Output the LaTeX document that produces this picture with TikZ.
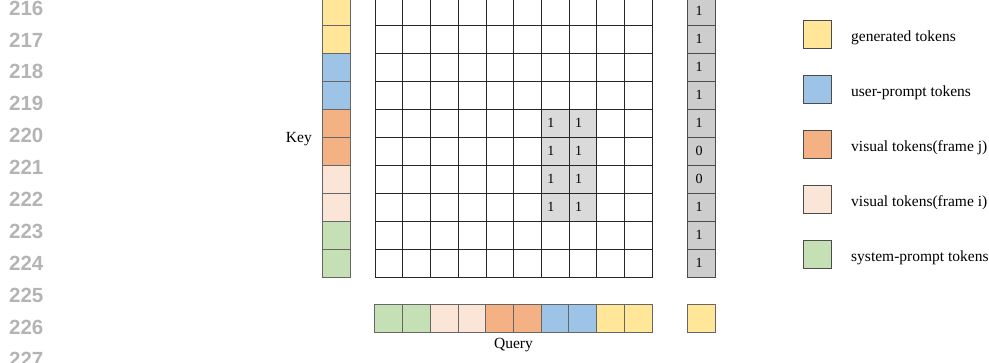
\documentclass[tikz,border=0pt]{standalone}
\usepackage{fontspec}
\setmainfont{Liberation Serif}
\newfontfamily\numfont{Liberation Sans}
\usetikzlibrary{positioning}
\definecolor{genyellow}{HTML}{FFE699}
\definecolor{userblue}{HTML}{9DC3E6}
\definecolor{framej}{HTML}{F4B183}
\definecolor{framei}{HTML}{FBE5D6}
\definecolor{sysgreen}{HTML}{C5E0B4}
\definecolor{maskgray}{HTML}{DADADA}
\definecolor{flaggray}{HTML}{CDCDCD}
\definecolor{linegray}{HTML}{B4B4B4}

\begin{document}
\begin{tikzpicture}[x=1pt, y=-1pt,
    cell/.style={draw=black!85, line width=0.6pt, minimum width=27.7pt, minimum height=28pt, inner sep=0pt, outer sep=0pt},
    token/.style={draw=black!60, line width=0.9pt, minimum width=28pt, minimum height=28pt, inner sep=0pt, outer sep=0pt},
    flag/.style={token, draw=black!70, fill=flaggray},
    digit/.style={font=\fontsize{14}{14}\selectfont, inner sep=0pt},
    legtext/.style={font=\fontsize{15.5}{15.5}\selectfont, inner sep=0pt, anchor=base west},
    axis/.style={font=\fontsize{15.5}{15.5}\selectfont, inner sep=0pt},
    lineno/.style={font=\numfont\bfseries\fontsize{20.5}{20.5}\selectfont, text=linegray, inner sep=0pt, anchor=west}
]
    \useasboundingbox (0,0) rectangle (989,362);

    % Line numbers
    \foreach \n [count=\i from 0] in {216,...,227}
        \node[lineno] (ln\n) at (9, {8+31.9*\i}) {\n};

    % Key tokens
    \foreach \c [count=\i] in {genyellow,genyellow,userblue,userblue,framej,framej,framei,framei,sysgreen,sysgreen}
        \node[token, fill=\c] (key\i) at (336, {-3+28*(\i-0.5)}) {};
    \node[axis, anchor=base east] (keylab) at (312,142) {Key};

    % Attention grid
    \foreach \r in {1,...,10}
        \foreach \c in {1,...,10} {
            \pgfmathtruncatemacro{\hit}{and(and(\r>4,\r<9),and(\c>6,\c<9))}
            \ifnum\hit=1 \def\cellfill{maskgray}\else\def\cellfill{white}\fi
            \node[cell, fill=\cellfill] (m-\r-\c) at ({375+27.7*(\c-0.5)}, {-3+28*(\r-0.5)}) {};
            \ifnum\hit=1
                \path (m-\r-\c.west) ++(6,4.7) node[digit, anchor=base west] (d-\r-\c) {1};
            \fi
        }

    % Key flags
    \foreach \v [count=\i] in {1,1,1,1,1,0,0,1,1,1} {
        \node[flag] (f\i) at (701.5, {-3+28*(\i-0.5)}) {};
        \path (f\i.center) ++(-2.5,4.7) node[digit, anchor=base] (fv\i) {\v};
    }

    % Query tokens
    \foreach \c [count=\i] in {sysgreen,sysgreen,framei,framei,framej,framej,userblue,userblue,genyellow,genyellow}
        \node[token, fill=\c] (q\i) at ({375+27.7*(\i-0.5)}, 318) {};
    \node[token, fill=genyellow] (qnew) at (701.5,318) {};
    \node[axis, anchor=base] (querylab) at (513.5,348) {Query};

    % Legend
    \foreach \c/\t [count=\i] in {genyellow/generated tokens, userblue/user-prompt tokens, framej/visual tokens(frame j), framei/visual tokens(frame i), sysgreen/system-prompt tokens} {
        \node[token, draw=black!70, fill=\c] (leg\i) at (817, {34+55*(\i-1)}) {};
        \node[legtext] (legtxt\i) at (851, {41.5+55*(\i-1)}) {\t};
    }
\end{tikzpicture}
\end{document}
